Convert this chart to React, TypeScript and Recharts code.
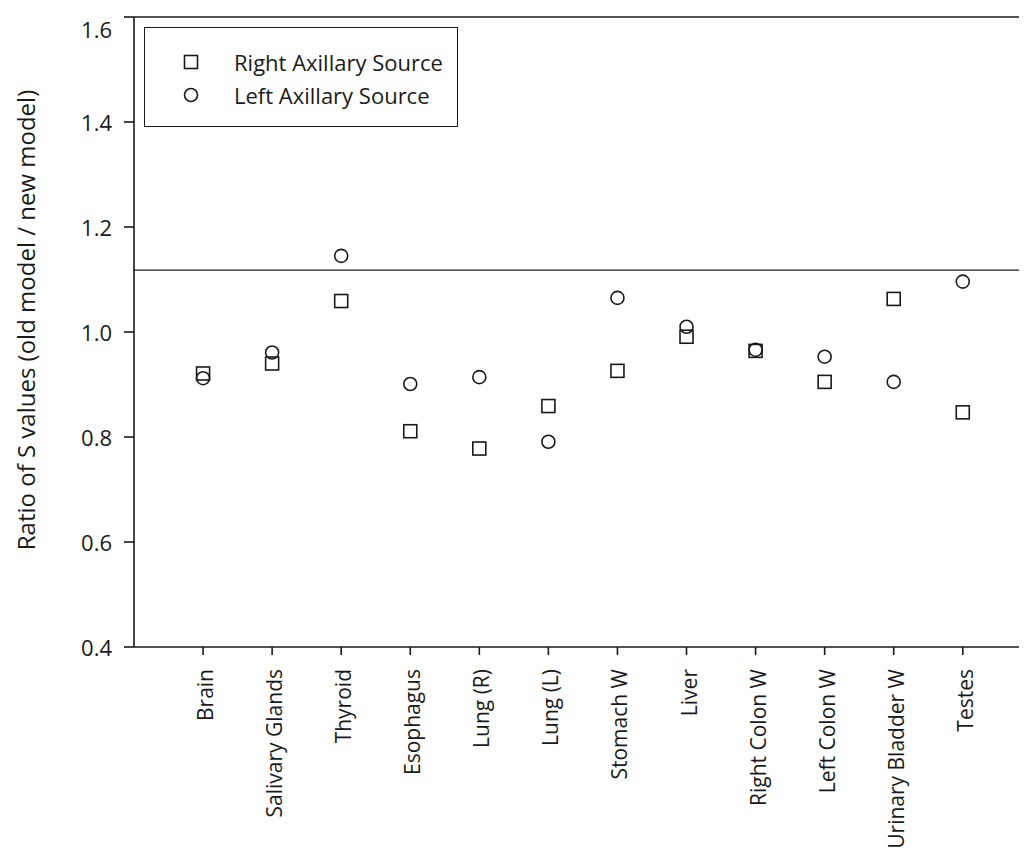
import React from 'react'
import {
  ComposedChart,
  Scatter,
  XAxis,
  YAxis,
  ReferenceLine,
  Legend,
} from 'recharts'

const categories = [
  'Brain',
  'Salivary Glands',
  'Thyroid',
  'Esophagus',
  'Lung (R)',
  'Lung (L)',
  'Stomach W',
  'Liver',
  'Right Colon W',
  'Left Colon W',
  'Urinary Bladder W',
  'Testes',
]
const rightAxillary = [0.921, 0.94, 1.059, 0.811, 0.778, 0.859, 0.926, 0.991, 0.964, 0.905, 1.063, 0.847]
const leftAxillary = [0.912, 0.961, 1.145, 0.901, 0.914, 0.791, 1.065, 1.01, 0.966, 0.953, 0.905, 1.096]
const yTicks = [0.4, 0.6, 0.8, 1.0, 1.2, 1.4, 1.6]
const xTicks = categories.map((_, i) => i + 1)
const threshold = 1.118

const INK = '#1a1a1a'
const FONT = '"Open Sans", sans-serif'

const rightData = rightAxillary.map((v, i) => ({ x: i + 1, y: v }))
const leftData = leftAxillary.map((v, i) => ({ x: i + 1, y: v }))

// hollow markers, like the original plot
const SquareMark = (p: any) => (
  <rect x={p.cx - 6.5} y={p.cy - 6.5} width={13} height={13} fill="none" stroke={INK} strokeWidth={1.6} />
)
const CircleMark = (p: any) => (
  <circle cx={p.cx} cy={p.cy} r={6.5} fill="none" stroke={INK} strokeWidth={1.6} />
)

const CategoryTick = ({ x, y, payload }: any) => (
  <text
    x={0}
    y={0}
    transform={`translate(${x + 2},${y + 12}) rotate(-90)`}
    textAnchor="end"
    dominantBaseline="central"
    fontFamily={FONT}
    fontSize={21}
    fill={INK}
  >
    {categories[payload.value - 1]}
  </text>
)

// top label sits a little lower so it is not clipped
const ValueTick = ({ x, y, payload }: any) => (
  <text
    x={x - 8}
    y={Math.max(y, 21)}
    textAnchor="end"
    dominantBaseline="central"
    fontFamily={FONT}
    fontSize={22}
    fill={INK}
  >
    {Number(payload.value).toFixed(1)}
  </text>
)

const YTitle = () => (
  <text
    x={17}
    y={312}
    transform="rotate(-90, 17, 312)"
    textAnchor="middle"
    dominantBaseline="central"
    fontFamily={FONT}
    fontSize={24}
    fill={INK}
  >
    Ratio of S values (old model / new model)
  </text>
)

const LegendBox = () => (
  <div
    style={{
      width: 312,
      height: 98,
      border: `1.6px solid ${INK}`,
      background: '#fff',
      fontFamily: FONT,
      fontSize: 22,
      color: INK,
      position: 'relative',
    }}
  >
    {[
      { name: 'Right Axillary Source', shape: 'square', top: 34 },
      { name: 'Left Axillary Source', shape: 'circle', top: 67 },
    ].map((item) => (
      <div key={item.name} style={{ position: 'absolute', left: 0, top: item.top - 15, height: 30, display: 'flex', alignItems: 'center' }}>
        <svg width={20} height={20} style={{ marginLeft: 36 }}>
          {item.shape === 'square' ? (
            <rect x={3.5} y={3.5} width={13} height={13} fill="none" stroke={INK} strokeWidth={1.6} />
          ) : (
            <circle cx={10} cy={10} r={6.5} fill="none" stroke={INK} strokeWidth={1.6} />
          )}
        </svg>
        <span style={{ marginLeft: 33, whiteSpace: 'nowrap' }}>{item.name}</span>
      </div>
    ))}
  </div>
)

export default function App() {
  return (
    <ComposedChart width={1019} height={851} margin={{ top: 9, right: 0, bottom: 0, left: 0 }}>
      <XAxis
        type="number"
        dataKey="x"
        domain={[0, 12.93]}
        ticks={xTicks}
        interval={0}
        allowDataOverflow
        height={212}
        tickSize={8}
        tick={<CategoryTick />}
        axisLine={{ stroke: INK, strokeWidth: 1.6 }}
        tickLine={{ stroke: INK, strokeWidth: 1.6 }}
      />
      <YAxis
        type="number"
        dataKey="y"
        domain={[0.4, 1.6]}
        ticks={yTicks}
        interval={0}
        width={126}
        tickSize={10}
        tickMargin={4}
        tick={<ValueTick />}
        axisLine={{ stroke: INK, strokeWidth: 1.6 }}
        tickLine={{ stroke: INK, strokeWidth: 1.6 }}
        label={{ content: () => <YTitle /> }}
      />
      <ReferenceLine y={1.6} stroke={INK} strokeWidth={1.6} />
      <ReferenceLine y={threshold} stroke={INK} strokeWidth={1.2} />
      <Legend
        layout="horizontal"
        verticalAlign="middle"
        align="center"
        content={() => <LegendBox />}
        wrapperStyle={{ position: 'absolute', left: 136, top: 19, width: 316, height: 102 }}
      />
      <Scatter name="Right Axillary Source" data={rightData} shape={SquareMark} isAnimationActive={false} />
      <Scatter name="Left Axillary Source" data={leftData} shape={CircleMark} isAnimationActive={false} />
    </ComposedChart>
  )
}
